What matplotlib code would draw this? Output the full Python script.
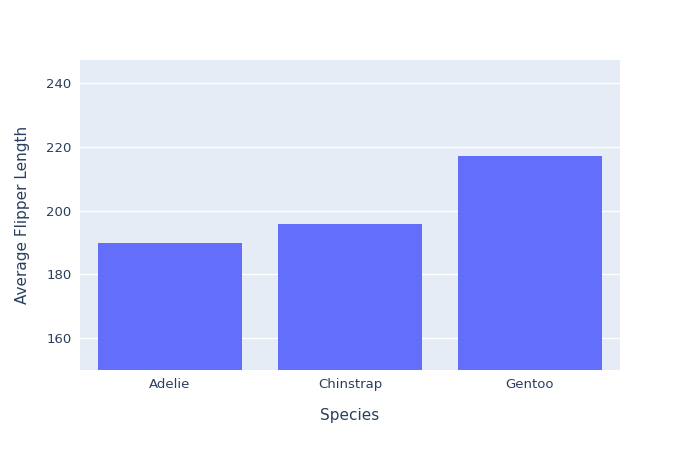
import matplotlib
matplotlib.use("Agg")
import matplotlib.pyplot as plt

species = ["Adelie", "Chinstrap", "Gentoo"]
flipper = [189.95, 195.82, 217.19]
yticks = [160, 180, 200, 220, 240]

fig = plt.figure(figsize=(7, 4.5), dpi=100)
ax = fig.add_axes([80/700, 80/450, 540/700, 310/450])
ax.set_facecolor("#E5ECF6")
ax.bar(range(len(species)), flipper, width=0.8, color="#636EFA", zorder=2)
ax.set_xlim(-0.5, 2.5)
ax.set_ylim(150, 247.2)
ax.set_yticks(yticks)
ax.set_xticks(range(len(species)))
ax.set_xticklabels(species)
ax.grid(axis="y", color="white", linewidth=1, zorder=1)
for s in ax.spines.values():
    s.set_visible(False)
ax.tick_params(length=0, labelsize=9.5, colors="#2a3f5f", pad=6)
ax.set_xlabel("Species", fontsize=11, color="#2a3f5f", labelpad=12)
ax.set_ylabel("Average Flipper Length", fontsize=11, color="#2a3f5f", labelpad=12)
fig.savefig("out.png")
